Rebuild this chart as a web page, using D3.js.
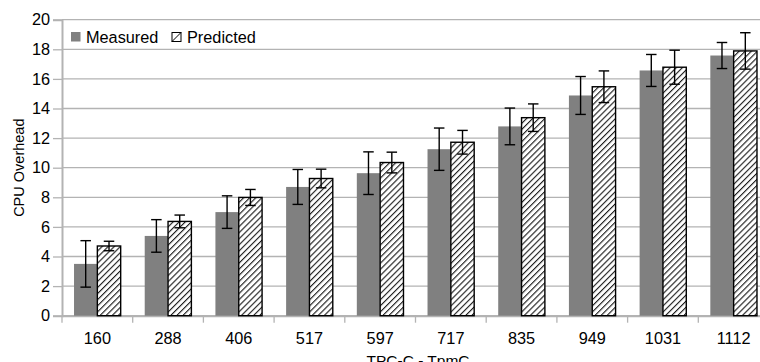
<!DOCTYPE html>
<html>
<head>
<meta charset="utf-8">
<script src="https://cdn.jsdelivr.net/npm/d3@7"></script>
<style>
  html, body { margin: 0; padding: 0; background: #fff; }
  svg { display: block; font-family: "Liberation Sans", Arial, sans-serif; }
</style>
</head>
<body>
<svg id="chart" width="760" height="362"></svg>
<script>
const categories = ["160", "288", "406", "517", "597", "717", "835", "949", "1031", "1112"];
const seriesNames = ["Measured", "Predicted"];
const measured      = [3.5, 5.39, 7.0, 8.7, 9.63, 11.25, 12.79, 14.88, 16.57, 17.58];
const measuredErr   = [1.57, 1.1, 1.1, 1.18, 1.44, 1.43, 1.24, 1.28, 1.08, 0.88];
const predicted     = [4.71, 6.37, 7.99, 9.27, 10.35, 11.72, 13.38, 15.47, 16.79, 17.89];
const predictedErr  = [0.32, 0.43, 0.54, 0.63, 0.7, 0.8, 0.93, 1.07, 1.15, 1.23];
const yTicks = [0, 2, 4, 6, 8, 10, 12, 14, 16, 18, 20];
const xTitle = "TPC-C - TpmC";
const yTitle = "CPU Overhead";

(function () {
const svg = d3.select("#chart");
const mLeft = 62, mRight = 769, mTop = 19.7, mBottom = 315.7;

const x = d3.scaleBand().domain(categories).range([mLeft, mRight]).paddingInner(0).paddingOuter(0);
const bw = x.bandwidth();
const x1 = d3.scaleBand().domain(seriesNames).range([bw * 0.17, bw * 0.83]).padding(0);
const y = d3.scaleLinear().domain([0, 20]).range([mBottom, mTop]);

// hatch pattern
const hs = 4.3;
const defs = svg.append("defs");
const pat = defs.append("pattern")
  .attr("id", "hatch").attr("patternUnits", "userSpaceOnUse")
  .attr("width", hs).attr("height", hs)
  .attr("patternTransform", "rotate(45)");
pat.append("rect").attr("width", hs).attr("height", hs).attr("fill", "#fff");
pat.append("line").attr("x1", 0.6).attr("y1", 0).attr("x2", 0.6).attr("y2", hs)
  .attr("stroke", "#000").attr("stroke-width", 1);

// gridlines
svg.append("g").selectAll("line").data(yTicks).join("line")
  .attr("x1", mLeft).attr("x2", 760)
  .attr("y1", d => y(d)).attr("y2", d => y(d))
  .attr("stroke", "#b3b3b3").attr("stroke-width", 1.3);

// y axis
const yAxis = svg.append("g").attr("transform", `translate(${mLeft},0)`)
  .call(d3.axisLeft(y).tickValues(yTicks).tickSize(9).tickPadding(3).tickFormat(d3.format("d")));
yAxis.select(".domain").attr("stroke", "#b3b3b3").attr("stroke-width", 2);
yAxis.selectAll(".tick line").attr("stroke", "#b3b3b3").attr("stroke-width", 1.3);
yAxis.selectAll("text").attr("font-size", 16.3).attr("fill", "#000")
  .attr("font-family", "Liberation Sans, Arial, sans-serif");

// x axis
const xAxis = svg.append("g").attr("transform", `translate(0,${mBottom})`)
  .call(d3.axisBottom(x).tickSize(0).tickPadding(17));
xAxis.select(".domain").attr("stroke", "#b3b3b3").attr("stroke-width", 2);
xAxis.selectAll("text").attr("font-size", 16.3).attr("fill", "#000")
  .attr("font-family", "Liberation Sans, Arial, sans-serif");
svg.append("g").selectAll("line").data(categories).join("line")
  .attr("x1", d => x(d)).attr("x2", d => x(d))
  .attr("y1", mBottom).attr("y2", mBottom + 7)
  .attr("stroke", "#b3b3b3").attr("stroke-width", 1.3);

// bars
const rows = categories.map((c, i) => ({
  cat: c,
  vals: [
    { s: "Measured", v: measured[i], e: measuredErr[i] },
    { s: "Predicted", v: predicted[i], e: predictedErr[i] }
  ]
}));

const groups = svg.append("g").selectAll("g").data(rows).join("g")
  .attr("transform", d => `translate(${x(d.cat)},0)`);

groups.selectAll("rect").data(d => d.vals).join("rect")
  .attr("x", d => x1(d.s))
  .attr("y", d => y(d.v))
  .attr("width", x1.bandwidth())
  .attr("height", d => y(0) - y(d.v))
  .attr("fill", d => d.s === "Measured" ? "#808080" : "url(#hatch)")
  .attr("stroke", d => d.s === "Measured" ? "none" : "#000")
  .attr("stroke-width", 1.4);

// error bars
const capW = 10.5;
const cx = d => x1(d.s) + x1.bandwidth() / 2;
const eb = groups.selectAll("g.err").data(d => d.vals).join("g").attr("class", "err");
eb.append("line")
  .attr("x1", cx).attr("x2", cx)
  .attr("y1", d => y(d.v + d.e)).attr("y2", d => y(d.v - d.e))
  .attr("stroke", "#000").attr("stroke-width", 1.4);
eb.append("line")
  .attr("x1", d => cx(d) - capW / 2).attr("x2", d => cx(d) + capW / 2)
  .attr("y1", d => y(d.v + d.e)).attr("y2", d => y(d.v + d.e))
  .attr("stroke", "#000").attr("stroke-width", 1.4);
eb.append("line")
  .attr("x1", d => cx(d) - capW / 2).attr("x2", d => cx(d) + capW / 2)
  .attr("y1", d => y(d.v - d.e)).attr("y2", d => y(d.v - d.e))
  .attr("stroke", "#000").attr("stroke-width", 1.4);

// legend
const legend = svg.append("g");
legend.append("rect").attr("x", 71).attr("y", 32).attr("width", 9.5).attr("height", 9.5).attr("fill", "#808080");
legend.append("text").attr("x", 86).attr("y", 42.5).attr("font-size", 16.3).text(seriesNames[0]);
legend.append("rect").attr("x", 172).attr("y", 32.5).attr("width", 9).attr("height", 9)
  .attr("fill", "#fff").attr("stroke", "#000").attr("stroke-width", 1);
legend.append("line").attr("x1", 172).attr("y1", 41.5).attr("x2", 181).attr("y2", 32.5)
  .attr("stroke", "#000").attr("stroke-width", 1);
legend.append("text").attr("x", 187).attr("y", 42.5).attr("font-size", 16.3).text(seriesNames[1]);

// axis titles (cut off at the bottom edge, as in the reference)
svg.append("text").attr("x", 418).attr("y", 366).attr("text-anchor", "middle")
  .attr("font-size", 15.5).text(xTitle);
svg.append("text").attr("transform", `translate(24,${(mTop + mBottom) / 2}) rotate(-90)`)
  .attr("text-anchor", "middle").attr("font-size", 14.5).text(yTitle);
})();
</script>
</body>
</html>
